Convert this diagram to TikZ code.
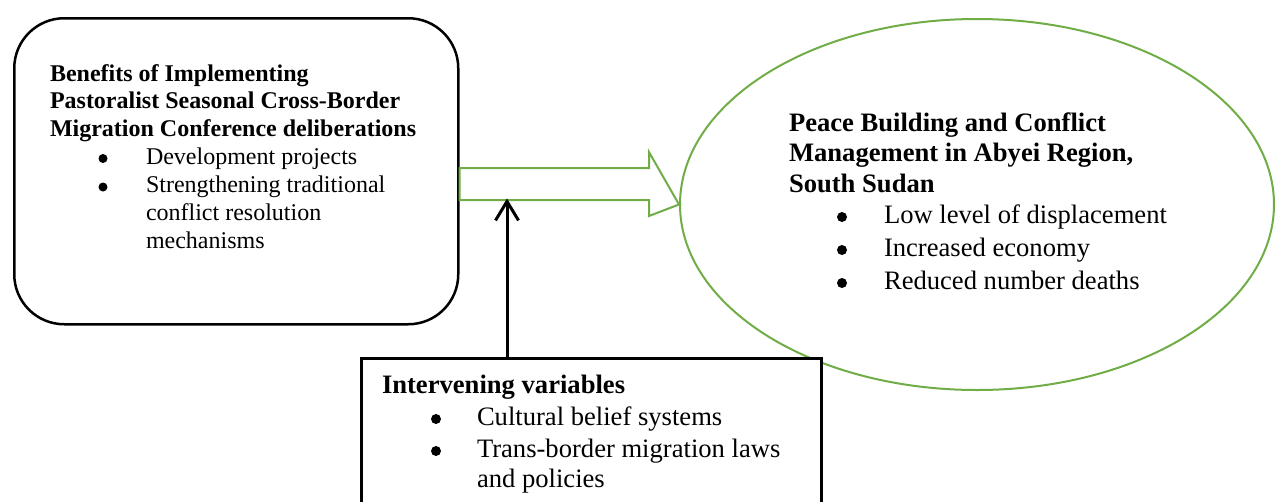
\documentclass[tikz,border=0pt]{standalone}
\usepackage{fontspec}
\setmainfont{Liberation Serif}
\usetikzlibrary{arrows.meta,shapes.geometric}
\definecolor{grn}{HTML}{70AD47}
\newcommand{\fsmall}{\fontsize{24}{27.8}\selectfont}
\newcommand{\fbig}{\fontsize{26.6}{30.6}\selectfont}
\newcommand{\blk}[2]{\parbox[t]{#1}{#2}}
\begin{document}
\begin{tikzpicture}[x=1pt,y=-1pt,
  lbl/.style={anchor=base west, inner sep=0pt, outer sep=0pt},
  bul/.style={circle, fill, draw=none, inner sep=0pt, minimum size=9pt},
  bbul/.style={circle, fill, draw=none, inner sep=0pt, minimum size=10pt},
  frame/.style={draw, line width=2.5pt, inner sep=0pt, fill=white},
  greenline/.style={draw=grn, line width=2pt}]
\useasboundingbox (0,0) rectangle (1275,501);
% ellipse
\node[greenline, ellipse, minimum width=594pt, minimum height=371pt, inner sep=0pt] (peace) at (977,204.5) {};
% left rounded box
\node[frame, rounded corners=50pt, minimum width=444pt, minimum height=306pt, anchor=north west] (ben) at (13,17) {};
% bottom box
\node[frame, minimum width=460pt, minimum height=180pt, anchor=north west] (inter) at (360,357) {};
% block arrow
\draw[greenline, fill=white, line join=miter]
  (ben.east |- 0,168) -- (649,168) -- (649,152) -- (peace.west) -- (649,216) -- (649,200) -- (ben.east |- 0,200) -- cycle;
% vertical arrow
\coordinate (up) at (507,198.5);
\draw[line width=3pt, -{Straight Barb[length=19pt, width=23pt]}] (inter.north -| up) -- (up);
% left box text
\node[lbl] (t1) at (50,81) {\blk{420pt}{\fsmall\bfseries Benefits of Implementing\\Pastoralist Seasonal Cross-Border\\Migration Conference deliberations}};
\node[bul] (b11) at (103,158.5) {};
\node[lbl] (i11) at (146,164) {\fsmall Development projects};
\node[bul] (b12) at (103,187) {};
\node[lbl] (i12) at (146,192.5) {\blk{300pt}{\fsmall Strengthening traditional\\conflict resolution\\mechanisms}};
% ellipse text
\node[lbl] (t2) at (789,131) {\blk{420pt}{\fbig\bfseries Peace Building and Conflict\\Management in Abyei Region,\\South Sudan}};
\node[bbul] (b21) at (842,217) {};
\node[lbl] (i21) at (884,223) {\fbig Low level of displacement};
\node[bbul] (b22) at (842,250) {};
\node[lbl] (i22) at (884,256) {\fbig Increased economy};
\node[bbul] (b23) at (842,283) {};
\node[lbl] (i23) at (884,289) {\fbig Reduced number deaths};
% bottom box text
\node[lbl] (t3) at (382,393) {\fbig\bfseries Intervening variables};
\node[bbul] (b31) at (436,419) {};
\node[lbl] (i31) at (477,425) {\fbig Cultural belief systems};
\node[bbul] (b32) at (436,451) {};
\node[lbl] (i32) at (477,457) {\blk{340pt}{\fbig Trans-border migration laws\\and policies}};
\end{tikzpicture}
\end{document}
